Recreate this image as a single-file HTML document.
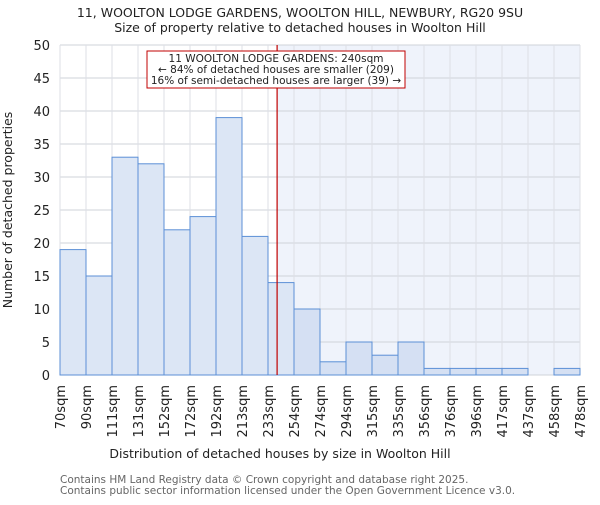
<!DOCTYPE html>
<html><head><meta charset="utf-8"><style>
body{margin:0;background:#fff;}
svg text{font-family:"DejaVu Sans","Liberation Sans",sans-serif;}
</style></head><body>
<svg id="c" width="600" height="500" xmlns="http://www.w3.org/2000/svg">
<text x="300" y="17" text-anchor="middle" font-size="12.5" fill="#222">11, WOOLTON LODGE GARDENS, WOOLTON HILL, NEWBURY, RG20 9SU</text>
<text x="300" y="32" text-anchor="middle" font-size="12.5" fill="#222">Size of property relative to detached houses in Woolton Hill</text>
<g id="grid"></g><g id="bars"></g><g id="axes"></g>
<text x="280" y="458" text-anchor="middle" font-size="12.5" fill="#222">Distribution of detached houses by size in Woolton Hill</text>
<text transform="translate(12,210) rotate(-90)" text-anchor="middle" font-size="12.5" fill="#222">Number of detached properties</text>
<text x="60" y="483" font-size="10.5" fill="#666">Contains HM Land Registry data © Crown copyright and database right 2025.</text>
<text x="60" y="494" font-size="10.5" fill="#666">Contains public sector information licensed under the Open Government Licence v3.0.</text>
</svg>
<script>
const categories=["70sqm","90sqm","111sqm","131sqm","152sqm","172sqm","192sqm","213sqm","233sqm","254sqm","274sqm","294sqm","315sqm","335sqm","356sqm","376sqm","396sqm","417sqm","437sqm","458sqm","478sqm"];
const counts=[19,15,33,32,22,24,39,21,14,10,2,5,3,5,1,1,1,1,0,1];
const yTicks=[0,5,10,15,20,25,30,35,40,45,50];
const markerIndex=8.35;
const NS="http://www.w3.org/2000/svg";
const L=60,R=580,T=45,B=375,bw=(R-L)/counts.length;
const xs=i=>L+i*bw, ys=v=>B-(v/50)*(B-T);
function mk(tag,at,parent){const e=document.createElementNS(NS,tag);for(const k in at)e.setAttribute(k,at[k]);document.getElementById(parent).appendChild(e);return e;}
const mx=xs(markerIndex);
let e=mk('rect',{x:mx,y:T,width:R-mx,height:B-T,fill:'#eff3fb'},'grid');


yTicks.forEach(v=>{
 let g=mk('line',{x1:L,x2:R,y1:ys(v),y2:ys(v),stroke:'#cfd3da','stroke-width':1},'grid');
 
 
 let t=mk('text',{x:L-10,y:ys(v)+5,'text-anchor':'end','font-size':13,fill:'#222'},'axes');t.textContent=v;
 
 
});
categories.forEach((c,i)=>{
 let g=mk('line',{x1:xs(i),x2:xs(i),y1:T,y2:B,stroke:'#dcdfe5','stroke-width':1},'grid');
 
 
 let t=mk('text',{transform:`translate(${xs(i)+5},385) rotate(-90)`,'text-anchor':'end','font-size':13,fill:'#222'},'axes');t.textContent=c;
 
 
});
counts.forEach((v,i)=>{
 const after=i>=9;
 let b=mk('rect',{x:xs(i),y:ys(v),width:bw,height:B-ys(v),fill:after?'#d5e0f3':'#dce6f5',stroke:'#5b8fd6','stroke-width':1},'bars');
 
 
});
let ml=mk('line',{x1:mx,x2:mx,y1:T,y2:B,stroke:'#c00000','stroke-width':1.2},'axes');


let bx=mk('rect',{x:147,y:51,width:258,height:37,fill:'#fff',stroke:'#c00000','stroke-width':1},'axes');


["11 WOOLTON LODGE GARDENS: 240sqm","← 84% of detached houses are smaller (209)","16% of semi-detached houses are larger (39) →"].forEach((s,i)=>{
 let t=mk('text',{x:276,y:62+i*11,'text-anchor':'middle','font-size':10.5,fill:'#222'},'axes');t.textContent=s;
 
 
});
</script>
</body></html>
